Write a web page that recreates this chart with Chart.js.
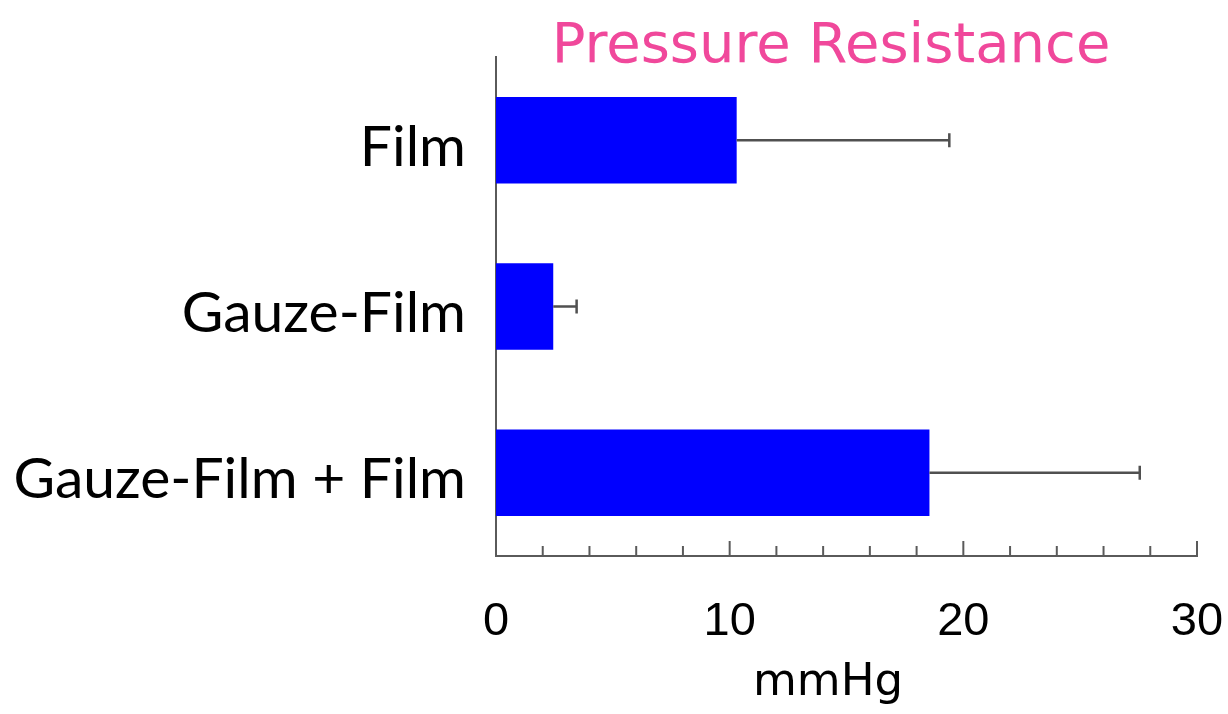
<!DOCTYPE html>
<html>
<head>
<meta charset="utf-8">
<script src="https://cdn.jsdelivr.net/npm/chart.js@4/dist/chart.umd.min.js"></script>
<style>
  html, body { margin: 0; padding: 0; background: #fff; }
  #wrap { width: 1228px; height: 714px; }
</style>
</head>
<body>
<div id="wrap"><canvas id="chart" width="1228" height="714"></canvas></div>
<script>
// data
const categories = ['Film', 'Gauze-Film', 'Gauze-Film + Film'];
const meanValues = [10.3, 2.45, 18.55];
const errorValues = [9.1, 1.0, 9.0];
const xTickLabels = [0, 10, 20, 30];
const chartTitle = 'Pressure Resistance';
const axisTitle = 'mmHg';

const AXIS_COLOR = '#5a5a5a';

// error bars + inward tick marks + titles
const extrasPlugin = {
  id: 'extras',
  afterDatasetsDraw(chart) {
    const ctx = chart.ctx;
    const xs = chart.scales.x;
    const meta = chart.getDatasetMeta(0);

    ctx.save();
    ctx.strokeStyle = '#505050';
    ctx.lineWidth = 2.5;
    meta.data.forEach((bar, i) => {
      const x0 = xs.getPixelForValue(meanValues[i]);
      const x1 = xs.getPixelForValue(meanValues[i] + errorValues[i]);
      const y = bar.y;
      ctx.beginPath();
      ctx.moveTo(x0, y);
      ctx.lineTo(x1, y);
      ctx.moveTo(x1, y - 7);
      ctx.lineTo(x1, y + 7);
      ctx.stroke();
    });

    // tick marks pointing up into the plot
    const bottom = chart.chartArea.bottom;
    ctx.strokeStyle = AXIS_COLOR;
    ctx.lineWidth = 2;
    xs.ticks.forEach(t => {
      if (t.value === 0) return;
      const px = xs.getPixelForValue(t.value);
      const len = xTickLabels.includes(t.value) ? 15 : 10;
      ctx.beginPath();
      ctx.moveTo(px, bottom);
      ctx.lineTo(px, bottom - len);
      ctx.stroke();
    });

    // title
    ctx.fillStyle = '#f0489b';
    ctx.font = '56px "DejaVu Sans"';
    ctx.textAlign = 'center';
    ctx.textBaseline = 'alphabetic';
    ctx.fillText(chartTitle, 831, 62);

    // axis title
    ctx.fillStyle = '#000';
    ctx.font = '45px "DejaVu Sans"';
    ctx.fillText(axisTitle, 828, 695);
    ctx.restore();
  }
};

const chart = new Chart(document.getElementById('chart'), {
  type: 'bar',
  data: {
    labels: categories,
    datasets: [{
      data: meanValues,
      backgroundColor: '#0000ff',
      borderWidth: 0,
      barPercentage: 0.52,
      categoryPercentage: 1.0
    }]
  },
  options: {
    indexAxis: 'y',
    responsive: false,
    animation: false,
    layout: { padding: { top: 57, right: 31, left: 0, bottom: 0 } },
    plugins: {
      legend: { display: false },
      tooltip: { enabled: false },
      title: { display: false }
    },
    scales: {
      x: {
        min: 0,
        max: 30,
        grid: { display: false, drawTicks: false },
        border: { display: true, color: AXIS_COLOR, width: 2 },
        ticks: {
          stepSize: 2,
          autoSkip: false,
          maxRotation: 0,
          padding: 38,
          color: '#000',
          font: { family: '"Liberation Sans", Arial', size: 47 },
          callback: v => xTickLabels.includes(v) ? String(v) : ''
        },
        afterFit: s => { s.height = 158; s.paddingLeft = 0; s.paddingRight = 0; }
      },
      y: {
        grid: { display: false, drawTicks: false },
        border: { display: true, color: AXIS_COLOR, width: 2 },
        ticks: {
          padding: 30,
          labelOffset: 7,
          color: '#000',
          font: { family: 'Lato', size: 57 }
        },
        afterFit: s => { s.width = 496; s.paddingTop = 0; s.paddingBottom = 0; }
      }
    }
  },
  plugins: [extrasPlugin]
});
</script>
</body>
</html>
